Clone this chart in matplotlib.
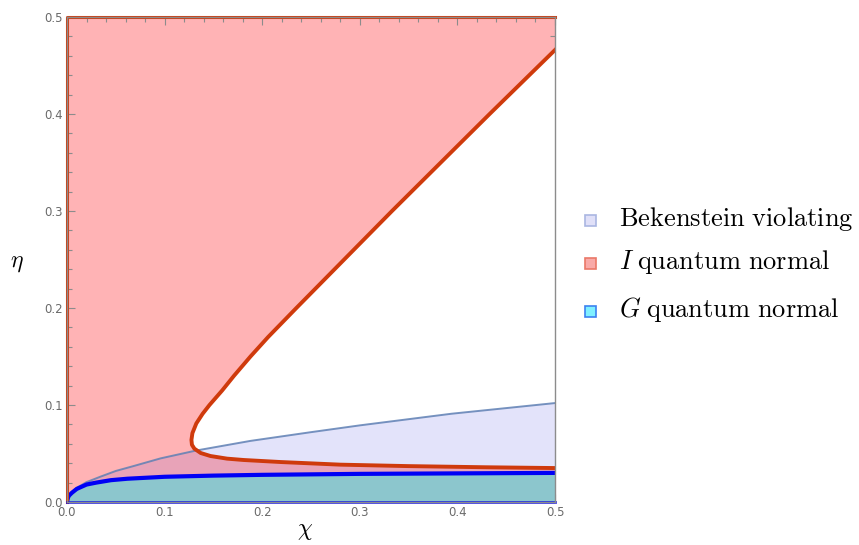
import numpy as np
import matplotlib.pyplot as plt
from matplotlib.patches import Polygon, Rectangle
from matplotlib.ticker import MultipleLocator

plt.rcParams['mathtext.fontset'] = 'cm'

# boundary of the "I quantum normal" region (upper branch -> turning point -> lower branch)
i_eta = [0.466, 0.40, 0.35, 0.30, 0.25, 0.20, 0.17, 0.15, 0.13, 0.115, 0.10, 0.091, 0.081,
         0.071, 0.064, 0.059, 0.055, 0.0505, 0.0474, 0.0447, 0.0433, 0.0412, 0.0385,
         0.0370, 0.0358, 0.0350]
i_chi = [0.500, 0.433, 0.383, 0.333, 0.284, 0.235, 0.206, 0.188, 0.171, 0.159, 0.146, 0.139, 0.1325,
         0.1285, 0.1275, 0.128, 0.1305, 0.137, 0.147, 0.164, 0.181, 0.219, 0.280,
         0.350, 0.430, 0.500]

# Bekenstein bound curve
bek_chi = [0.0, 0.002, 0.005, 0.01, 0.02, 0.034, 0.05, 0.068, 0.096, 0.132, 0.188, 0.25, 0.3, 0.394, 0.5]
bek_eta = [0.0, 0.0065, 0.0103, 0.0146, 0.0205, 0.026, 0.032, 0.037, 0.045, 0.053, 0.063, 0.072, 0.079, 0.091, 0.102]

# G quantum normal boundary
g_chi = [0.0, 0.001, 0.002, 0.005, 0.01, 0.02, 0.03, 0.045, 0.062, 0.1, 0.15, 0.2, 0.3, 0.4, 0.5]
g_eta = [0.0, 0.0045, 0.0065, 0.0095, 0.0135, 0.018, 0.020, 0.0225, 0.024, 0.026, 0.0272, 0.028, 0.029, 0.0295, 0.030]

legend_labels = [r'$\mathrm{Bekenstein\ violating}$',
                 r'$I\;\mathrm{quantum\ normal}$',
                 r'$G\;\mathrm{quantum\ normal}$']

PINK = '#ffb3b5'
MAUVE = '#e8a3b8'
LAVENDER = '#e3e3fa'
TEAL = '#8cc6cd'
RED = '#cf3a0c'
BLUE = '#0000f5'
BEK = '#5f80b4'


fig = plt.figure(figsize=(8.59, 5.45), dpi=100)
ax = fig.add_axes([67 / 859, 43 / 545, 488 / 859, 485 / 545])
ax.set_xlim(0, 0.5)
ax.set_ylim(0, 0.5)
ax.set_facecolor(PINK)

bek_pts = list(zip(bek_chi, bek_eta)) + [(0.5, 0.0)]
ax.add_patch(Polygon(bek_pts, closed=True, facecolor=MAUVE, edgecolor='none', zorder=1))

wedge = Polygon(list(zip(i_chi, i_eta)), closed=True, facecolor='white', edgecolor='none', zorder=2)
ax.add_patch(wedge)

lav = Polygon(bek_pts, closed=True, facecolor=LAVENDER, edgecolor='none', zorder=3)
ax.add_patch(lav)
lav.set_clip_path(wedge)

g_pts = list(zip(g_chi, g_eta)) + [(0.5, 0.0)]
ax.add_patch(Polygon(g_pts, closed=True, facecolor=TEAL, edgecolor='none', zorder=4))

ax.plot(bek_chi, bek_eta, color=BEK, lw=1.4, alpha=0.85, zorder=5)
ax.plot(g_chi, g_eta, color=BLUE, lw=3.0, zorder=6, solid_capstyle='butt')
ax.plot(i_chi, i_eta, color=RED, lw=2.8, zorder=7, solid_joinstyle='round')

# region edges along the frame
ax.plot([0, 0, 0.5], [0, 0.5, 0.5], color=RED, lw=2.2, zorder=8, clip_on=False)
ax.plot([0, 0.5], [0, 0], color=BLUE, lw=2.0, alpha=0.8, zorder=8, clip_on=False)

for s in ax.spines.values():
    s.set_color('#8c8c8c')
    s.set_linewidth(1.0)
    s.set_zorder(9)

ax.xaxis.set_major_locator(MultipleLocator(0.1))
ax.yaxis.set_major_locator(MultipleLocator(0.1))
ax.xaxis.set_minor_locator(MultipleLocator(0.02))
ax.yaxis.set_minor_locator(MultipleLocator(0.02))
ax.tick_params(which='both', direction='in', top=True, right=True, color='#8c8c8c', width=0.8)
ax.tick_params(which='major', length=6, labelsize=8.5, labelcolor='#6a6a6a', pad=3)
ax.tick_params(which='minor', length=3.5)
ax.xaxis.set_major_formatter(plt.FuncFormatter(lambda v, p: '%.1f' % v))
ax.yaxis.set_major_formatter(plt.FuncFormatter(lambda v, p: '%.1f' % v))

fig.text(17 / 859, 1 - 262 / 545, r'$\eta$', fontsize=17, ha='center', va='center')
fig.text(305 / 859, 1 - 530 / 545, r'$\chi$', fontsize=17, ha='center', va='center')

# legend
sq_face = ['#e0e0f8', '#f9aaa8', '#80f0ff']
sq_edge = ['#aab6e2', '#ea7868', '#3c82f0']
rows_y = [219, 262, 310]
for lab, fc, ec, yy in zip(legend_labels, sq_face, sq_edge, rows_y):
    fig.patches.append(Rectangle((585 / 859, 1 - (yy + 7) / 545), 11 / 859, 11 / 545,
                                 transform=fig.transFigure, facecolor=fc, edgecolor=ec, lw=1.2))
    fig.text(619 / 859, 1 - yy / 545, lab, fontsize=19, ha='left', va='center')

fig.savefig('out.png', dpi=100)
